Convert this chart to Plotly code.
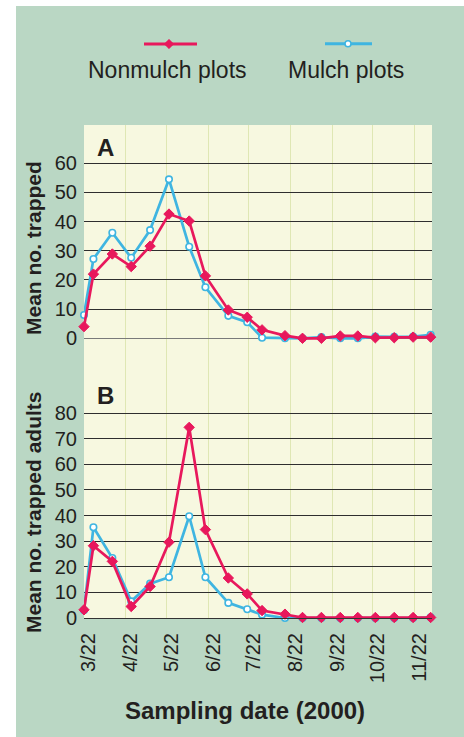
import plotly.graph_objects as go

# ---------------- data ----------------
dates = ['2000-03-22', '2000-03-29', '2000-04-12', '2000-04-26', '2000-05-10',
         '2000-05-24', '2000-06-08', '2000-06-20', '2000-07-07', '2000-07-21',
         '2000-08-01', '2000-08-18', '2000-08-31', '2000-09-14', '2000-09-28',
         '2000-10-11', '2000-10-24', '2000-11-07', '2000-11-21', '2000-12-04']

nonmulch_A = [4.0, 22.0, 28.9, 24.6, 31.6, 42.6, 40.2, 21.4, 9.7, 7.2,
              2.9, 0.9, 0.0, 0.0, 0.8, 0.8, 0.2, 0.2, 0.4, 0.4]
mulch_A = [8.0, 27.2, 36.2, 27.6, 37.1, 54.5, 31.4, 17.5, 7.7, 5.5,
           0.2, 0.0, 0.0, 0.4, 0.0, 0.0, 0.6, 0.5, 0.6, 1.2]
nonmulch_B = [3.2, 28.2, 22.1, 4.5, 12.3, 29.6, 74.4, 34.5, 15.6, 9.4,
              2.9, 1.5, 0.2, 0.2, 0.2, 0.2, 0.2, 0.2, 0.2, 0.2]
mulch_B = [3.0, 35.4, 23.4, 6.5, 13.4, 15.9, 39.7, 15.9, 5.9, 3.4,
           1.3, 0.0, 0.0, 0.0, 0.0, 0.0, 0.0, 0.0, 0.0, 0.3]

tick_dates = ['2000-03-22', '2000-04-22', '2000-05-22', '2000-06-22', '2000-07-22',
              '2000-08-22', '2000-09-22', '2000-10-22', '2000-11-22']
tick_labels = ['3/22', '4/22', '5/22', '6/22', '7/22', '8/22', '9/22', '10/22', '11/22']
ticks_A = [0, 10, 20, 30, 40, 50, 60]
ticks_B = [0, 10, 20, 30, 40, 50, 60, 70, 80]

series_names = ['Nonmulch plots', 'Mulch plots']
title_A = 'Mean no. trapped'
title_B = 'Mean no. trapped adults'
title_x = 'Sampling date (2000)'

# ---------------- style ----------------
RED = '#e8185c'
BLUE = '#3fb5e1'
GREEN_BG = '#bad7c4'
YELLOW_BG = '#f7f8e0'
TXT = '#231f20'
GRID = '#2e2e2e'
VGRID = '#dfe7b4'
FONT = 'Liberation Sans, Arial, sans-serif'

W, H = 464, 737
L, R, T, B = 84, 32, 125, 119
PW, PH = W - L - R, H - T - B
SPLIT = 372  # pixel row where panel A meets panel B


def px_x(p):
    return (p - L) / PW


def px_y(p):
    return (H - B - p) / PH


split_frac = px_y(SPLIT)

fig = go.Figure()


def add_pair(xa, ya, yb_mulch, yb_non):
    fig.add_trace(go.Scatter(
        x=dates, y=yb_mulch, xaxis=xa, yaxis=ya, mode='lines+markers',
        name=series_names[1], showlegend=False, cliponaxis=False,
        line=dict(color=BLUE, width=2.7),
        marker=dict(symbol='circle', size=6.5, color='white',
                    line=dict(color=BLUE, width=1.6))))
    fig.add_trace(go.Scatter(
        x=dates, y=yb_non, xaxis=xa, yaxis=ya, mode='lines+markers',
        name=series_names[0], showlegend=False, cliponaxis=False,
        line=dict(color=RED, width=2.7),
        marker=dict(symbol='diamond', size=8, color=RED,
                    line=dict(color=RED, width=1))))


add_pair('x', 'y', mulch_A, nonmulch_A)
add_pair('x2', 'y2', mulch_B, nonmulch_B)

# axis scales: pixel geometry of the reference
yA_zero_px, yA_60_px = 338.3, 163.3
sA = (yA_zero_px - yA_60_px) / 60.0
rangeA = [-(SPLIT - yA_zero_px) / sA, (yA_zero_px - T) / sA]
yB_zero_px, yB_80_px = H - B, 413.0
sB = (yB_zero_px - yB_80_px) / 80.0
rangeB = [0, (yB_zero_px - SPLIT) / sB]

xrange_ = ['2000-03-22', '2000-12-05']

common_x = dict(type='date', range=xrange_, tickmode='array', tickvals=tick_dates,
                showgrid=True, gridcolor=VGRID, gridwidth=1, zeroline=False,
                ticks='', fixedrange=True)
fig.update_layout(
    xaxis=dict(common_x, domain=[0, 1], anchor='y', showticklabels=False, showline=False),
    xaxis2=dict(common_x, domain=[0, 1], anchor='y2', ticktext=tick_labels,
                showticklabels=True, tickangle=-90, ticklabelstandoff=6,
                ticklabelshift=5,
                tickfont=dict(family=FONT, size=20, color=TXT),
                showline=True, linecolor='#333333', linewidth=1.2),
    yaxis=dict(domain=[split_frac, 1], anchor='x', range=rangeA, tickmode='array',
               tickvals=ticks_A, showgrid=True, gridcolor=GRID, gridwidth=1,
               zeroline=True, zerolinecolor='#7a7a7a', zerolinewidth=1.3,
               ticks='', ticklabelstandoff=6, fixedrange=True,
               tickfont=dict(family=FONT, size=20, color=TXT)),
    yaxis2=dict(domain=[0, split_frac], anchor='x2', range=rangeB, tickmode='array',
                tickvals=ticks_B, showgrid=True, gridcolor=GRID, gridwidth=1,
                zeroline=False, ticks='', ticklabelstandoff=6, fixedrange=True,
                tickfont=dict(family=FONT, size=20, color=TXT)),
    width=W, height=H, autosize=False,
    margin=dict(l=L, r=R, t=T, b=B, pad=0),
    paper_bgcolor=GREEN_BG, plot_bgcolor=YELLOW_BG,
    showlegend=False,
)

shapes = []
# white strips at left and top of the picture
shapes.append(dict(type='rect', xref='paper', yref='paper', layer='below',
                   x0=px_x(0), x1=px_x(16), y0=px_y(H), y1=px_y(0),
                   fillcolor='white', line=dict(width=0)))
shapes.append(dict(type='rect', xref='paper', yref='paper', layer='below',
                   x0=px_x(0), x1=px_x(W), y0=px_y(6), y1=px_y(0),
                   fillcolor='white', line=dict(width=0)))
# legend symbols
shapes.append(dict(type='line', xref='paper', yref='paper',
                   x0=px_x(144), x1=px_x(197), y0=px_y(44), y1=px_y(44),
                   line=dict(color=RED, width=3)))
cx, cy, h = 169, 44, 4.8
shapes.append(dict(type='path', xref='paper', yref='paper',
                   path='M {} {} L {} {} L {} {} L {} {} Z'.format(
                       px_x(cx - h), px_y(cy), px_x(cx), px_y(cy - h),
                       px_x(cx + h), px_y(cy), px_x(cx), px_y(cy + h)),
                   fillcolor=RED, line=dict(color=RED, width=0.5)))
shapes.append(dict(type='line', xref='paper', yref='paper',
                   x0=px_x(325), x1=px_x(372), y0=px_y(43.7), y1=px_y(43.7),
                   line=dict(color=BLUE, width=3)))
cx, cy, r = 348, 43.7, 3.0
shapes.append(dict(type='circle', xref='paper', yref='paper',
                   x0=px_x(cx - r), x1=px_x(cx + r), y0=px_y(cy + r), y1=px_y(cy - r),
                   fillcolor='white', line=dict(color=BLUE, width=1.6)))
fig.update_layout(shapes=shapes)

ann = []
ann.append(dict(text=series_names[0], xref='paper', yref='paper', x=px_x(167.5), y=px_y(70),
                xanchor='center', yanchor='middle', showarrow=False,
                font=dict(family=FONT, size=23, color=TXT)))
ann.append(dict(text=series_names[1], xref='paper', yref='paper', x=px_x(346), y=px_y(70),
                xanchor='center', yanchor='middle', showarrow=False,
                font=dict(family=FONT, size=23, color=TXT)))
ann.append(dict(text='<b>A</b>', xref='paper', yref='paper', x=px_x(95), y=px_y(147),
                xanchor='left', yanchor='middle', showarrow=False,
                font=dict(family=FONT, size=24, color=TXT)))
ann.append(dict(text='<b>B</b>', xref='paper', yref='paper', x=px_x(95), y=px_y(396),
                xanchor='left', yanchor='middle', showarrow=False,
                font=dict(family=FONT, size=24, color=TXT)))
ann.append(dict(text='<b>' + title_A + '</b>', xref='paper', yref='paper',
                x=px_x(33), y=px_y(248), xanchor='center', yanchor='middle',
                textangle=-90, showarrow=False,
                font=dict(family=FONT, size=21, color=TXT)))
ann.append(dict(text='<b>' + title_B + '</b>', xref='paper', yref='paper',
                x=px_x(33), y=px_y(512), xanchor='center', yanchor='middle',
                textangle=-90, showarrow=False,
                font=dict(family=FONT, size=21, color=TXT)))
ann.append(dict(text='<b>' + title_x + '</b>', xref='paper', yref='paper',
                x=px_x(245), y=px_y(710), xanchor='center', yanchor='middle',
                showarrow=False, font=dict(family=FONT, size=24, color=TXT)))
fig.update_layout(annotations=ann)

fig.write_html('out.html', config={'displayModeBar': False},
               post_script=("document.body.style.margin='0';"
                            "document.body.style.padding='0';"
                            "document.body.style.overflow='hidden';"
                            "document.body.style.background='" + GREEN_BG + "';"
                            "document.documentElement.style.background='" + GREEN_BG + "';"
                            "document.documentElement.style.overflow='hidden';"))
